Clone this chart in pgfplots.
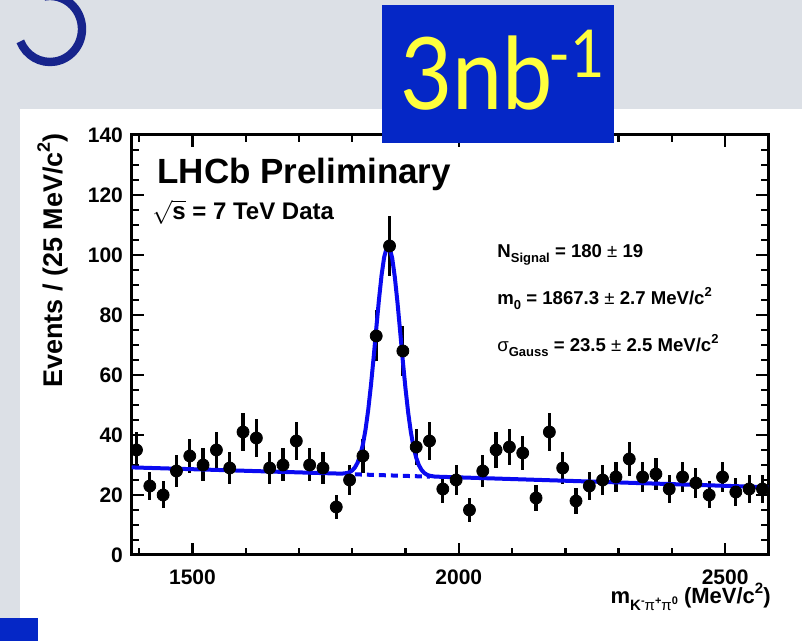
\documentclass[border=0pt]{standalone}
\usepackage{fontspec}
\setmainfont{Liberation Sans}
\newfontfamily\slidefont{Lato}
\usepackage{pgfplots}
\pgfplotsset{compat=1.18}
\usepackage{pgfplotstable}

\definecolor{slidegray}{HTML}{DCE0E6}
\definecolor{boxblue}{HTML}{0527C6}
\definecolor{lumiyellow}{HTML}{FFFF3C}
\definecolor{titlenavy}{HTML}{17248C}
\definecolor{fitblue}{HTML}{0A0AF0}

% D0 -> K- pi+ pi0 candidates, 25 MeV bins: centre, events, sqrt(events)
\pgfplotstableread{
x y e
1395 35 5.9
1420 23 4.8
1445 20 4.5
1470 28 5.3
1495 33 5.7
1520 30 5.5
1545 35 5.9
1570 29 5.4
1595 41 6.4
1620 39 6.2
1645 29 5.4
1670 30 5.5
1695 38 6.2
1720 30 5.5
1745 29 5.4
1770 16 4.0
1795 25 5.0
1820 33 5.7
1845 73 8.5
1870 103 10.1
1895 68 8.2
1920 36 6.0
1945 38 6.2
1970 22 4.7
1995 25 5.0
2020 15 3.9
2045 28 5.3
2070 35 5.9
2095 36 6.0
2120 34 5.8
2145 19 4.4
2170 41 6.4
2195 29 5.4
2220 18 4.2
2245 23 4.8
2270 25 5.0
2295 26 5.1
2320 32 5.7
2345 26 5.1
2370 27 5.2
2395 22 4.7
2420 26 5.1
2445 24 4.9
2470 20 4.5
2495 26 5.1
2520 21 4.6
2545 22 4.7
2570 22 4.7
}\massdata

% fitted curve (gauss + linear background)
\pgfplotstableread{
x y
1386 29.20
1780 27.11
1790 27.31
1795 27.61
1800 28.18
1805 29.17
1810 30.77
1815 33.26
1820 36.88
1825 41.89
1830 48.42
1835 56.42
1840 65.60
1845 75.36
1850 84.90
1855 93.23
1860 99.38
1865 102.58
1867.3 102.94
1870 102.43
1875 98.91
1880 92.49
1885 83.97
1890 74.34
1895 64.53
1900 55.38
1905 47.43
1910 40.97
1915 36.02
1920 32.43
1925 29.97
1930 28.37
1935 27.37
1940 26.78
1945 26.43
1955 26.13
2581 22.60
}\fitdata

\begin{document}
\begin{tikzpicture}[x=0.5bp,y=0.5bp]
\path[use as bounding box] (0,0) rectangle (802,641);
\clip (0,0) rectangle (802,641);
\fill[slidegray] (0,0) rectangle (802,641);
\fill[white] (20,0) rectangle (802,532);
\fill[boxblue] (0,0) rectangle (38,23);
\draw[titlenavy, line width=4.2bp] (50,612) ++(100:32 and 33)
  arc[start angle=100, end angle=-158, x radius=32, y radius=33];

\coordinate (O) at (131.7,86);
\begin{axis}[
  at={(O)}, anchor=south west,
  scale only axis,
  width=318.3bp, height=210bp,
  xmin=1386, xmax=2581,
  ymin=0, ymax=140,
  xtick={1500,2000,2500},
  minor xtick={1400,1600,1700,1800,1900,2100,2200,2300,2400},
  ytick={0,20,...,140},
  minor y tick num=3,
  tick align=inside,
  major tick length=6bp,
  minor tick length=3.5bp,
  axis line style={line width=1.5bp},
  every tick/.style={black, line width=1.2bp},
  every tick label/.append style={font=\fontsize{10.5bp}{12bp}\selectfont\bfseries, inner sep=0pt},
  yticklabel style={xshift=-4.2bp},
  xticklabel style={yshift=-7bp},
  /pgf/number format/assume math mode=true,
  /pgf/number format/set thousands separator={},
]
\addplot[only marks, mark=*, mark size=3bp, black,
  error bars/.cd, y dir=both, y explicit,
  error bar style={line width=1.6bp, black}, error mark=none]
  table[x=x, y=y, y error=e] {\massdata};
\addplot[fitblue, line width=2bp, dash pattern=on 3.5bp off 2.5bp]
  coordinates {(1805,26.89) (1946,26.11)};
\addplot[fitblue, line width=2bp, line join=round] table[x=x, y=y] {\fitdata};
\end{axis}

\node[anchor=base west, inner sep=0pt, font=\fontsize{17.5bp}{20bp}\selectfont\bfseries]
  at (157,457.7) {LHCb Preliminary};
\node[anchor=base west, inner sep=0pt, font=\fontsize{12bp}{14bp}\selectfont\bfseries]
  at (152,421) {$\sqrt{\mbox{\bfseries s}}$ = 7 TeV Data};
\node[anchor=base west, inner sep=0pt, font=\fontsize{9.3bp}{11bp}\selectfont\bfseries]
  at (497,383) {N\raisebox{-0.45ex}{\fontsize{6.5bp}{7bp}\selectfont Signal} = 180 {\mdseries ±} 19};
\node[anchor=base west, inner sep=0pt, font=\fontsize{9.3bp}{11bp}\selectfont\bfseries]
  at (497,336) {m\raisebox{-0.45ex}{\fontsize{6.5bp}{7bp}\selectfont 0} = 1867.3 {\mdseries ±} 2.7 MeV/c\raisebox{0.9ex}{\fontsize{6.5bp}{7bp}\selectfont 2}};
\node[anchor=base west, inner sep=0pt, font=\fontsize{9.3bp}{11bp}\selectfont\bfseries]
  at (497,289) {{\mdseries σ}\raisebox{-0.45ex}{\fontsize{6.5bp}{7bp}\selectfont Gauss} = 23.5 {\mdseries ±} 2.5 MeV/c\raisebox{0.9ex}{\fontsize{6.5bp}{7bp}\selectfont 2}};

\node[anchor=base east, inner sep=0pt, font=\fontsize{11bp}{13bp}\selectfont\bfseries]
  at (771,37) {m\raisebox{-0.55ex}{\fontsize{7.5bp}{8bp}\selectfont K\raisebox{0.7ex}{\fontsize{5.5bp}{6bp}\selectfont -}{\mdseries π}\raisebox{0.7ex}{\fontsize{5.5bp}{6bp}\selectfont +}{\mdseries π}\raisebox{0.7ex}{\fontsize{5.5bp}{6bp}\selectfont 0}} (MeV/c\raisebox{0.9ex}{\fontsize{7.5bp}{8bp}\selectfont 2})};
\node[anchor=base, rotate=90, inner sep=0pt, font=\fontsize{13.5bp}{15bp}\selectfont\bfseries]
  at (62.6,380.5) {Events / (25 MeV/c\raisebox{0.9ex}{\fontsize{9bp}{10bp}\selectfont 2})};

\fill[boxblue] (382,498) rectangle (614,636);
\node[anchor=base west, inner sep=0pt, xscale=0.9, text=lumiyellow,
  font=\fontsize{50bp}{55bp}\selectfont\slidefont] at (400,531) {3nb};
\node[anchor=base west, inner sep=0pt, xscale=0.9, text=lumiyellow,
  font=\fontsize{33bp}{36bp}\selectfont\slidefont] at (548,563) {-1};
\end{tikzpicture}
\end{document}
